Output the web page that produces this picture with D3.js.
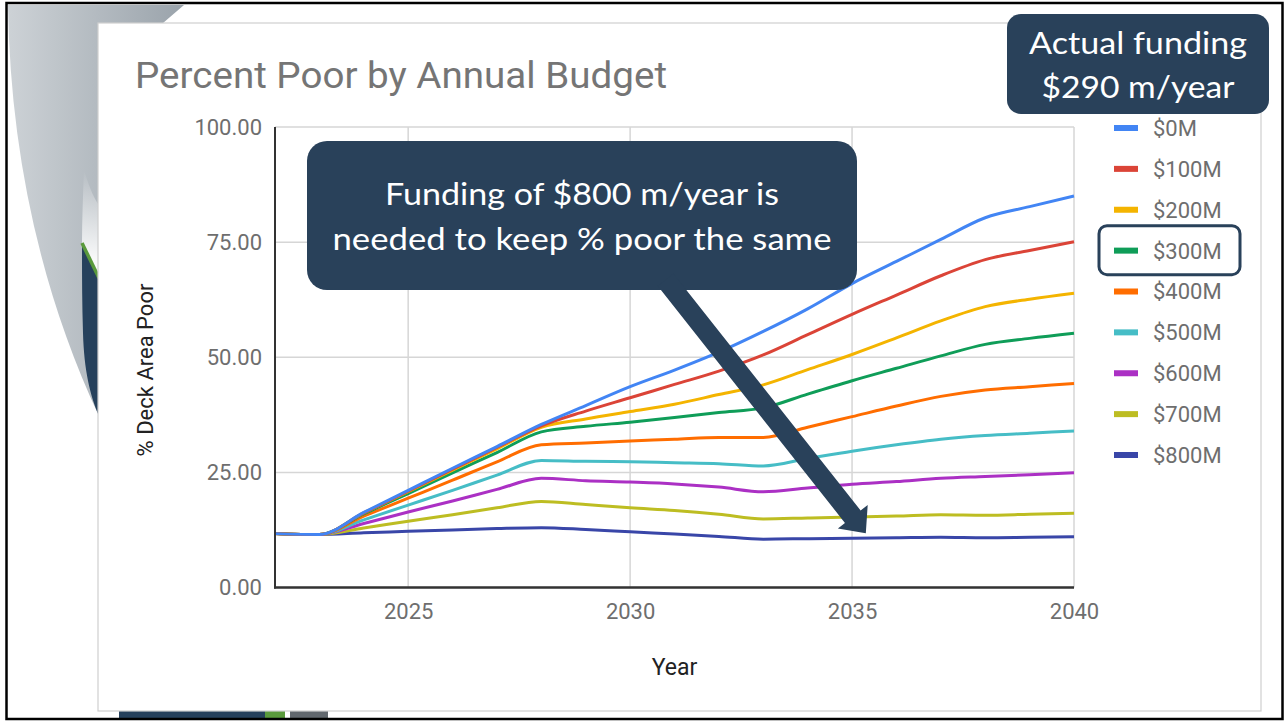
<!DOCTYPE html>
<html><head><meta charset="utf-8">
<script src="https://cdn.jsdelivr.net/npm/d3@7"></script>
<style>
body{margin:0;background:#fff;}
svg{display:block;}
</style>
</head><body>
<svg id="c" width="1286" height="721"></svg>
<script>
// ---------- data ----------
const years = [2022,2023,2024,2025,2026,2027,2028,2029,2030,2031,2032,2033,2034,2035,2036,2037,2038,2039,2040];
const budgets = ["$0M","$100M","$200M","$300M","$400M","$500M","$600M","$700M","$800M"];
const s0M   = [11.7,11.5,16.3,21.1,25.9,30.6,35.4,39.5,43.6,47.2,51.1,55.6,60.5,66.0,70.8,75.6,80.3,82.7,85.0];
const s100M = [11.7,11.5,16.2,20.9,25.7,30.4,35.1,38.3,41.2,44.1,47.0,50.5,54.9,59.3,63.5,67.7,71.2,73.2,75.1];
const s200M = [11.7,11.5,16.2,20.8,25.5,30.1,34.8,36.6,38.2,39.8,41.9,44.0,47.3,50.6,54.2,57.9,61.0,62.6,63.9];
const s300M = [11.7,11.5,16.0,20.4,24.9,29.3,33.8,35.0,35.9,36.9,38.0,39.0,42.0,44.9,47.6,50.3,52.8,54.1,55.2];
const s400M = [11.7,11.5,15.5,19.4,23.3,27.3,31.0,31.4,31.8,32.2,32.6,32.6,34.8,37.1,39.4,41.5,42.9,43.6,44.3];
const s500M = [11.7,11.5,14.7,17.9,21.1,24.4,27.6,27.4,27.3,27.1,26.9,26.4,28.0,29.6,31.0,32.2,33.0,33.5,34.0];
const s600M = [11.7,11.5,13.9,16.4,18.8,21.3,23.7,23.2,22.9,22.5,21.8,20.8,21.6,22.4,23.0,23.7,24.1,24.5,24.9];
const s700M = [11.7,11.5,12.9,14.4,15.8,17.3,18.7,18.0,17.3,16.7,15.9,14.9,15.1,15.3,15.5,15.8,15.7,15.9,16.1];
const s800M = [11.7,11.5,11.9,12.2,12.5,12.8,13.0,12.6,12.1,11.6,11.1,10.5,10.6,10.7,10.8,10.9,10.8,10.9,11.0];
const seriesValues = [s0M,s100M,s200M,s300M,s400M,s500M,s600M,s700M,s800M];
const colors = ["#4285f4","#db4437","#f4b400","#0f9d58","#ff6d00","#46bdc6","#ab30c4","#bdbd22","#3946a8"];
const xTicks = [2025,2030,2035,2040];
const yTicks = [0,25,50,75,100];
const highlighted = "$300M";
const title = "Percent Poor by Annual Budget";
const yTitle = "% Deck Area Poor";
const xTitle = "Year";
const calloutLines = ["Funding of $800 m/year is","needed to keep % poor the same"];
const fundingLines = ["Actual funding","$290 m/year"];

// ---------- drawing ----------
const svg = d3.select("#c");
const defs = svg.append("defs");
const g1 = defs.append("linearGradient").attr("id","gr").attr("x1","0").attr("x2","1").attr("y1","0").attr("y2","0");
g1.append("stop").attr("offset","0").attr("stop-color","#cdd2d6");
g1.append("stop").attr("offset","1").attr("stop-color","#9aa3ab");
const g2 = defs.append("linearGradient").attr("id","wh").attr("x1","0").attr("x2","0").attr("y1","0").attr("y2","1");
g2.append("stop").attr("offset","0").attr("stop-color","#ffffff").attr("stop-opacity",0);
g2.append("stop").attr("offset","0.8").attr("stop-color","#ffffff").attr("stop-opacity",0.9);
g2.append("stop").attr("offset","1").attr("stop-color","#ffffff").attr("stop-opacity",1);

// slide background decoration
svg.append("path").attr("d","M8,5 L184,5 L120,60 L100,60 L99,416 C40,290 10,150 8,5 Z").attr("fill","url(#gr)");
svg.append("path").attr("d","M84,170 C90,190 95,200 99,205 L99,280 L82,243 C82,220 83,195 84,170 Z").attr("fill","url(#wh)");
svg.append("path").attr("d","M82,243 L99,278 L99,416 C90,395 84,370 83,333 C82,300 82,270 82,243 Z").attr("fill","#26415c");
svg.append("path").attr("d","M82,243 L99,278").attr("stroke","#5a9a3c").attr("stroke-width",3.5);
svg.append("rect").attr("x",119).attr("y",711).attr("width",146).attr("height",9).attr("fill","#26415c");
svg.append("rect").attr("x",265).attr("y",711).attr("width",20).attr("height",9).attr("fill","#5a9a3c");
svg.append("rect").attr("x",290).attr("y",711).attr("width",38).attr("height",9).attr("fill","#62686e");

// card
svg.append("rect").attr("x",98).attr("y",23).attr("width",1163).attr("height",688)
  .attr("fill","#fff").attr("stroke","#cfcfcf").attr("stroke-width",1.2);

// outer frame
svg.append("rect").attr("x",6.5).attr("y",3).attr("width",1276).attr("height",716)
  .attr("fill","none").attr("stroke","#000").attr("stroke-width",2.5);

// title
svg.append("text").attr("x",135).attr("y",88).text(title)
  .attr("font-family","Roboto").attr("font-size",37).attr("fill","#757575")
  .attr("textLength",532).attr("lengthAdjust","spacingAndGlyphs");

const x = d3.scaleLinear().domain([years[0], years[years.length-1]]).range([275,1074]);
const y = d3.scaleLinear().domain([0,100]).range([587.5,127]);

// gridlines
const grid = svg.append("g").attr("stroke","#d6d6d6").attr("stroke-width",1.5);
grid.selectAll("line.h").data(yTicks).join("line").attr("class","h")
  .attr("x1",x.range()[0]).attr("x2",x.range()[1]).attr("y1",d=>y(d)).attr("y2",d=>y(d));
grid.selectAll("line.v").data(xTicks).join("line").attr("class","v")
  .attr("y1",y.range()[0]).attr("y2",y.range()[1]).attr("x1",d=>x(d)).attr("x2",d=>x(d));

// lines
const line = d3.line().x((d,i)=>x(years[i])).y(d=>y(d)).curve(d3.curveMonotoneX);
svg.append("g").selectAll("path").data(seriesValues.slice().reverse()).join("path")
  .attr("d",line).attr("fill","none")
  .attr("stroke",(d,i)=>colors[colors.length-1-i]).attr("stroke-width",3).attr("stroke-linejoin","round");

// axes
const yAxis = svg.append("g").attr("transform",`translate(${x.range()[0]},0)`)
  .call(d3.axisLeft(y).tickValues(yTicks).tickFormat(d3.format(".2f")).tickSize(0).tickPadding(13));
const xAxis = svg.append("g").attr("transform",`translate(0,${y.range()[0]})`)
  .call(d3.axisBottom(x).tickValues(xTicks).tickFormat(d3.format("d")).tickSize(0).tickPadding(16));
[yAxis,xAxis].forEach(a=>{
  a.select(".domain").remove();
  a.selectAll("text").attr("font-family","Roboto").attr("font-size",22).attr("fill","#6e6e6e");
});
svg.append("line").attr("x1",x.range()[0]).attr("x2",x.range()[0]).attr("y1",y.range()[1]).attr("y2",y.range()[0]+1)
  .attr("stroke","#333").attr("stroke-width",2);
svg.append("line").attr("x1",x.range()[0]-1).attr("x2",x.range()[1]).attr("y1",y.range()[0]).attr("y2",y.range()[0])
  .attr("stroke","#333").attr("stroke-width",2.5);

// axis titles
svg.append("text").attr("transform","translate(153,370) rotate(-90)").attr("text-anchor","middle")
  .text(yTitle).attr("font-family","Roboto").attr("font-size",22).attr("fill","#222");
svg.append("text").attr("x",(x.range()[0]+x.range()[1])/2).attr("y",675).attr("text-anchor","middle")
  .text(xTitle).attr("font-family","Roboto").attr("font-size",23).attr("fill","#222");

// legend
const ly = d3.scaleLinear().domain([0,budgets.length-1]).range([128,455]);
const lg = svg.append("g").selectAll("g").data(budgets).join("g").attr("transform",(d,i)=>`translate(0,${ly(i)})`);
lg.append("rect").attr("x",1114).attr("y",-3).attr("width",24).attr("height",6).attr("fill",(d,i)=>colors[i]);
lg.append("text").attr("x",1153).attr("dy","0.36em").text(d=>d)
  .attr("font-family","Roboto").attr("font-size",22).attr("fill","#6e6e6e");
const hi = budgets.indexOf(highlighted);
svg.append("rect").attr("x",1099).attr("y",ly(hi)-25).attr("width",141).attr("height",49).attr("rx",8)
  .attr("fill","none").attr("stroke","#29415a").attr("stroke-width",3);

// funding box
svg.append("rect").attr("x",1007).attr("y",14).attr("width",262).attr("height",100).attr("rx",14).attr("fill","#29415a");
svg.append("g").selectAll("text").data(fundingLines).join("text")
  .attr("x",1138).attr("y",(d,i)=>[54,98][i]).attr("text-anchor","middle").text(d=>d)
  .attr("font-family","Lato").attr("font-size",31).attr("fill","#fff")
  .attr("textLength",(d,i)=>[218,193][i]).attr("lengthAdjust","spacingAndGlyphs");

// callout box
svg.append("rect").attr("x",307).attr("y",141).attr("width",550).attr("height",149).attr("rx",20).attr("fill","#29415a");
svg.append("g").selectAll("text").data(calloutLines).join("text")
  .attr("x",582).attr("y",(d,i)=>[205,250][i]).attr("text-anchor","middle").text(d=>d)
  .attr("font-family","Lato").attr("font-size",31).attr("fill","#fff")
  .attr("textLength",(d,i)=>[394,499][i]).attr("lengthAdjust","spacingAndGlyphs");

// arrow (anchored in data space)
const start = [x(2030.80), y(66.8)], tip = [x(2035.31), y(11.8)];
const dx = tip[0]-start[0], dy = tip[1]-start[1], L = Math.hypot(dx,dy);
const u = [dx/L, dy/L], p = [-u[1], u[0]];
const headLen = 21, headHalf = 19, shaftHalf = 10;
const base = [tip[0]-u[0]*headLen, tip[1]-u[1]*headLen];
const pts = [
  [start[0]+p[0]*shaftHalf, start[1]+p[1]*shaftHalf],
  [base[0]+p[0]*shaftHalf, base[1]+p[1]*shaftHalf],
  [base[0]+p[0]*headHalf, base[1]+p[1]*headHalf],
  tip,
  [base[0]-p[0]*headHalf, base[1]-p[1]*headHalf],
  [base[0]-p[0]*shaftHalf, base[1]-p[1]*shaftHalf],
  [start[0]-p[0]*shaftHalf, start[1]-p[1]*shaftHalf]
];
svg.append("path").attr("d","M"+pts.map(q=>q.join(",")).join("L")+"Z").attr("fill","#29415a");
</script>
</body></html>
